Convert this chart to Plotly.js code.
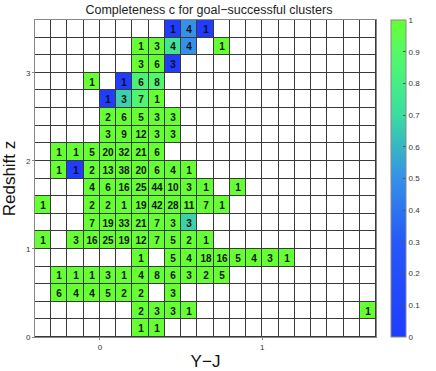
<!DOCTYPE html>
<html>
<head>
<meta charset="utf-8">
<script src="https://cdn.plot.ly/plotly-3.0.1.min.js"></script>
<style>html,body{margin:0;padding:0;background:#fff;}#chart{width:436px;height:371px;}</style>
</head>
<body>
<div id="chart"></div>
<script>
const n = null;
// Y-J bin centres (width 0.1) and redshift bin centres (width 0.2)
const xCenters = [-0.35,-0.25,-0.15,-0.05,0.05,0.15,0.25,0.35,0.45,0.55,0.65,0.75,0.85,0.95,1.05,1.15,1.25,1.35,1.45,1.55,1.65];
const yCenters = [0.1,0.3,0.5,0.7,0.9,1.1,1.3,1.5,1.7,1.9,2.1,2.3,2.5,2.7,2.9,3.1,3.3,3.5];
// number of clusters per cell (rows from z=0.1 upward)
const counts = [
  [n,n,n,n,n,n,1,1,n,n,n,n,n,n,n,n,n,n,n,n,n],
  [n,n,n,n,n,n,2,3,3,1,n,n,n,n,n,n,n,n,n,n,1],
  [n,6,4,4,5,2,2,n,3,n,n,n,n,n,n,n,n,n,n,n,n],
  [n,1,1,1,3,1,4,8,6,3,2,5,n,n,n,n,n,n,n,n,n],
  [n,n,n,n,n,n,1,n,5,4,18,16,5,4,3,1,n,n,n,n,n],
  [1,n,3,16,25,19,12,7,5,2,1,n,n,n,n,n,n,n,n,n,n],
  [n,n,n,7,19,33,21,7,3,3,n,n,n,n,n,n,n,n,n,n,n],
  [1,n,n,2,2,1,19,42,28,11,7,1,n,n,n,n,n,n,n,n,n],
  [n,n,n,4,6,16,25,44,10,3,1,n,1,n,n,n,n,n,n,n,n],
  [n,1,1,2,13,38,20,6,4,1,n,n,n,n,n,n,n,n,n,n,n],
  [n,1,1,5,20,32,21,6,n,n,n,n,n,n,n,n,n,n,n,n,n],
  [n,n,n,n,3,9,12,3,3,n,n,n,n,n,n,n,n,n,n,n,n],
  [n,n,n,n,2,6,5,3,3,n,n,n,n,n,n,n,n,n,n,n,n],
  [n,n,n,n,1,3,7,1,n,n,n,n,n,n,n,n,n,n,n,n,n],
  [n,n,n,1,n,1,6,8,n,n,n,n,n,n,n,n,n,n,n,n,n],
  [n,n,n,n,n,n,3,6,3,n,n,n,n,n,n,n,n,n,n,n,n],
  [n,n,n,n,n,n,1,3,4,4,n,1,n,n,n,n,n,n,n,n,n],
  [n,n,n,n,n,n,n,n,1,4,1,n,n,n,n,n,n,n,n,n,n]
];
// completeness c per cell
const completeness = [
  [n,n,n,n,n,n,1,1,n,n,n,n,n,n,n,n,n,n,n,n,n],
  [n,n,n,n,n,n,1,1,1,1,n,n,n,n,n,n,n,n,n,n,1],
  [n,1,1,1,1,1,1,n,1,n,n,n,n,n,n,n,n,n,n,n,n],
  [n,1,1,1,1,1,1,1,1,1,1,1,n,n,n,n,n,n,n,n,n],
  [n,n,n,n,n,n,1,n,1,1,1,1,1,1,1,1,n,n,n,n,n],
  [1,n,1,1,1,1,1,1,1,1,1,n,n,n,n,n,n,n,n,n,n],
  [n,n,n,1,1,1,1,1,1,0.67,n,n,n,n,n,n,n,n,n,n,n],
  [1,n,n,1,1,1,1,1,1,1,1,1,n,n,n,n,n,n,n,n,n],
  [n,n,n,1,1,1,1,1,1,1,1,n,1,n,n,n,n,n,n,n,n],
  [n,1,0,1,1,1,1,1,1,1,n,n,n,n,n,n,n,n,n,n,n],
  [n,1,1,1,1,1,1,1,n,n,n,n,n,n,n,n,n,n,n,n,n],
  [n,n,n,n,1,1,1,1,1,n,n,n,n,n,n,n,n,n,n,n,n],
  [n,n,n,n,1,1,1,1,1,n,n,n,n,n,n,n,n,n,n,n,n],
  [n,n,n,n,0,0.67,0.857,1,n,n,n,n,n,n,n,n,n,n,n,n,n],
  [n,n,n,1,n,0,0.833,0.875,n,n,n,n,n,n,n,n,n,n,n,n,n],
  [n,n,n,n,n,n,1,1,0,n,n,n,n,n,n,n,n,n,n,n,n],
  [n,n,n,n,n,n,1,1,0.75,0.5,n,1,n,n,n,n,n,n,n,n,n],
  [n,n,n,n,n,n,n,n,0,0.5,0,n,n,n,n,n,n,n,n,n,n]
];
const xTicks = [0, 1];
const yTicks = [0, 1, 2, 3];
const cbTicks = [0,0.1,0.2,0.3,0.4,0.5,0.6,0.7,0.8,0.9,1];

const FONT = 'Liberation Sans, Arial, sans-serif';
const bgZ = counts.map(r => r.map(() => 0));
const textGrid = counts.map(r => r.map(v => v === null ? '' : String(v)));

const background = {
  type: 'heatmap', x: xCenters, y: yCenters, z: bgZ,
  colorscale: [[0,'#ffffff'],[1,'#ffffff']], showscale: false,
  xgap: 1, ygap: 1, hoverinfo: 'skip'
};
const cells = {
  type: 'heatmap', x: xCenters, y: yCenters, z: completeness,
  text: textGrid, texttemplate: '%{text}',
  textfont: {family: FONT, size: 10, color: '#111', weight: 'bold'},
  zmin: 0, zmax: 1, xgap: 1, ygap: 1,
  colorscale: [[0,'#1f3cff'],[0.3,'#2658f8'],[0.5,'#3590ea'],[0.6,'#36b6c4'],[0.7,'#3cdca0'],[0.8,'#44ef84'],[0.9,'#55f965'],[1,'#66ff33']],
  colorbar: {
    x: 1.043, xanchor: 'left', xref: 'paper', y: 0.5, yanchor: 'middle', len: 1, lenmode: 'fraction',
    thickness: 15, thicknessmode: 'pixels', outlinecolor: '#888', outlinewidth: 1,
    tickvals: cbTicks, ticks: 'inside', ticklen: 3, tickcolor: '#555',
    tickfont: {family: FONT, size: 8, color: '#333'}, xpad: 0, ypad: 0
  }
};

const layout = {
  width: 436, height: 371,
  margin: {l: 35, r: 51, t: 20, b: 34},
  paper_bgcolor: '#ffffff', plot_bgcolor: '#3a3a3a',
  font: {family: FONT, color: '#222'},
  title: {text: 'Completeness c for goal\u2212successful clusters', font: {family: FONT, size: 12.5, color: '#222'},
          x: 0.51, xref: 'paper', xanchor: 'center', y: 0.973, yref: 'container', yanchor: 'middle'},
  xaxis: {range: [-0.4, 1.7], tickvals: xTicks, ticktext: xTicks.map(String), showgrid: false, zeroline: false,
          showline: true, linecolor: '#888', linewidth: 1, mirror: true, ticks: 'outside', ticklen: 2, tickcolor: '#888',
          tickfont: {family: FONT, size: 8, color: '#333'},
          title: {text: 'Y\u2212J', font: {family: FONT, size: 17, color: '#111'}, standoff: 4}},
  yaxis: {range: [0, 3.6], tickvals: yTicks, ticktext: yTicks.map(String), showgrid: false, zeroline: false,
          showline: true, linecolor: '#888', linewidth: 1, mirror: true, ticks: 'outside', ticklen: 2, tickcolor: '#888',
          tickfont: {family: FONT, size: 8, color: '#333'},
          title: {text: 'Redshift z', font: {family: FONT, size: 17, color: '#111'}, standoff: 6}}
};

Plotly.newPlot('chart', [background, cells], layout, {displayModeBar: false, staticPlot: true});
</script>
</body>
</html>
